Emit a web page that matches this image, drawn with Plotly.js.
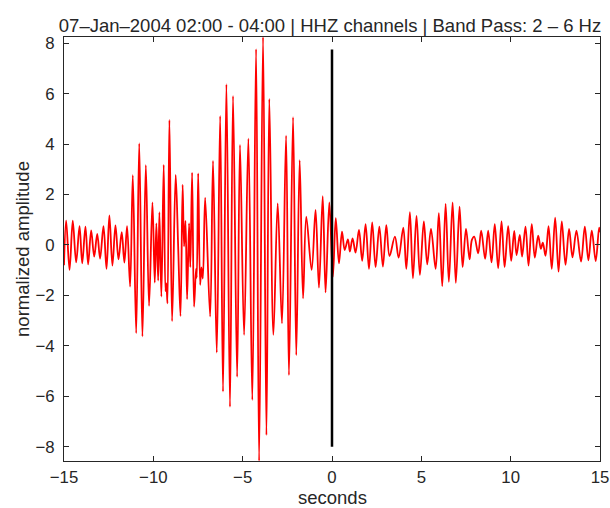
<!DOCTYPE html>
<html>
<head>
<meta charset="utf-8">
<script src="https://cdn.plot.ly/plotly-3.0.1.min.js"></script>
<style>html,body{margin:0;padding:0;background:#fff;}#chart{width:610px;height:508px;}</style>
</head>
<body>
<div id="chart"></div>
<script>
// Waveform extrema (seconds, normalized amplitude)
const timeSec = [
-15.00,-14.88,-14.69,-14.51,-14.32,-14.13,-13.98,-13.80,-13.65,-13.48,-13.31,-13.14,-12.98,-12.79,-12.62,-12.46,-12.29,-12.12,-11.95,-11.77,-11.62,-11.47,
-11.30,-11.15,-10.96,-10.79,-10.61,-10.42,-10.24,-10.05,-9.92,-9.83,-9.73,-9.66,-9.55,-9.42,-9.32,-9.27,-9.21,-9.10,-8.95,-8.75,-8.61,-8.48,-8.36,-8.28,-8.20,-8.11,-8.00,-7.93,
-7.83,-7.72,-7.61,-7.57,-7.49,-7.38,-7.31,-7.23,-7.10,-6.82,-6.66,-6.45,-6.26,-6.10,-5.91,-5.71,-5.54,-5.31,-5.15,-4.92,-4.68,-4.46,-4.25,-4.08,-3.86,-3.67,-3.51,-3.28,-3.04,-2.80,
-2.57,-2.41,-2.18,-2.00,-1.81,-1.62,-1.44,-1.14,-0.92,-0.73,-0.52,-0.36,-0.15,0.05,0.21,0.39,0.56,0.71,0.89,1.00,1.15,1.32,1.51,1.69,1.88,2.07,2.25,2.44,2.65,2.85,
3.04,3.22,3.52,3.73,3.99,4.16,4.36,4.53,4.73,4.92,5.14,5.33,5.54,5.80,5.98,6.17,6.36,6.54,6.75,6.93,7.14,7.31,7.50,7.70,7.83,7.96,8.18,8.35,8.57,8.74,
8.93,9.11,9.30,9.49,9.66,9.86,10.03,10.20,10.33,10.51,10.64,10.83,11.00,11.18,11.35,11.54,11.69,11.80,11.95,12.12,12.30,12.49,12.68,12.86,13.07,13.27,13.46,13.68,13.94,14.15,
14.35,14.54,14.76,14.95,15.00
];
const amplitude = [
-0.80,0.96,-0.99,0.96,-0.69,0.75,-0.73,0.73,-0.77,0.58,-0.46,0.44,-0.54,0.75,-0.95,1.17,-0.82,0.78,-0.57,0.51,-0.70,0.75,
-1.65,2.77,-3.50,4.03,-3.63,3.17,-2.42,1.69,-1.49,0.86,-1.41,1.30,-2.05,3.18,-1.83,-1.52,-2.32,4.96,-3.02,2.78,-0.07,-2.82,2.39,-0.06,0.95,-2.15,0.86,-0.88,
2.87,-2.45,-0.95,-1.30,2.84,-1.58,-0.89,-1.33,1.88,-2.84,3.33,-4.27,5.12,-5.82,6.38,-6.42,5.91,-5.23,3.97,-3.57,4.22,-6.15,7.77,-8.57,8.25,-7.54,5.79,-3.57,1.65,-3.11,
4.34,-5.16,5.07,-4.37,3.36,-2.12,1.12,-0.99,1.39,-1.69,1.94,-1.88,1.69,-1.26,1.06,-0.73,0.53,-0.20,0.22,-0.26,0.26,-0.30,0.60,-0.63,0.83,-0.95,0.90,-0.88,0.73,-0.86,
0.79,-0.44,0.33,-0.50,0.69,-0.95,1.30,-1.32,1.15,-1.19,0.93,-0.77,0.64,-0.95,1.26,-1.63,1.63,-1.46,1.69,-1.50,1.52,-0.88,0.64,-0.57,0.20,0.33,-0.33,0.57,-0.55,0.57,
-0.69,0.83,-0.93,0.93,-0.88,0.75,-0.63,0.56,-0.40,0.40,-0.46,0.73,-0.82,0.83,-0.50,0.37,-0.15,0.09,-0.43,0.75,-0.95,1.08,-1.06,0.93,-0.79,0.64,-0.49,0.57,-0.66,0.73,
-0.61,0.57,-0.64,0.69,0.50
];
// Event marker at t = 0
const markerTime = [0, 0];
const markerAmp = [-8.0, 7.75];

const xTickVals = [-15, -10, -5, 0, 5, 10, 15];
const xTickText = ['\u221215', '\u221210', '\u22125', '0', '5', '10', '15'];
const yTickVals = [-8, -6, -4, -2, 0, 2, 4, 6, 8];
const yTickText = ['\u22128', '\u22126', '\u22124', '\u22122', '0', '2', '4', '6', '8'];

const titleText = '07\u2013Jan\u20132004 02:00 - 04:00 | HHZ channels | Band Pass: 2 \u2013 6 Hz';
const xLabel = 'seconds';
const yLabel = 'normalized amplitude';

const font = 'Liberation Sans, Arial, sans-serif';
const ink = '#262626';

const traces = [
  {x: timeSec, y: amplitude, type: 'scatter', mode: 'lines',
   line: {color: '#ff0000', width: 1.8, shape: 'spline', smoothing: 1}, hoverinfo: 'skip'},
  {x: markerTime, y: markerAmp, type: 'scatter', mode: 'lines',
   line: {color: '#000000', width: 2.5}, hoverinfo: 'skip'}
];

const axisCommon = {
  showgrid: false, zeroline: false, showline: true, linecolor: ink, linewidth: 1,
  mirror: 'ticks', ticks: 'inside', ticklen: 5, tickcolor: ink, tickwidth: 1,
  tickfont: {family: font, size: 16.8, color: ink}
};

const layout = {
  width: 610, height: 508,
  margin: {l: 64, r: 10, t: 37, b: 47, pad: 0},
  paper_bgcolor: '#ffffff', plot_bgcolor: '#ffffff',
  showlegend: false,
  title: {text: titleText, font: {family: font, size: 18.5, color: ink},
          x: 0.541, xanchor: 'center', y: 0.95, yanchor: 'middle'},
  xaxis: Object.assign({}, axisCommon, {
    range: [-15, 15], tickmode: 'array', tickvals: xTickVals, ticktext: xTickText,
    ticklabelstandoff: 1
  }),
  yaxis: Object.assign({}, axisCommon, {
    range: [-8.57, 8.25], tickmode: 'array', tickvals: yTickVals, ticktext: yTickText,
    ticklabelstandoff: 5,
    title: {text: yLabel, font: {family: font, size: 18.5, color: ink}, standoff: 1}
  }),
  annotations: [
    {text: xLabel, xref: 'paper', yref: 'paper', x: 0.5, y: -0.0856,
     xanchor: 'center', yanchor: 'middle', showarrow: false, borderpad: 0,
     font: {family: font, size: 18.5, color: ink}}
  ]
};

Plotly.newPlot('chart', traces, layout, {staticPlot: true, displayModeBar: false});
</script>
</body>
</html>
